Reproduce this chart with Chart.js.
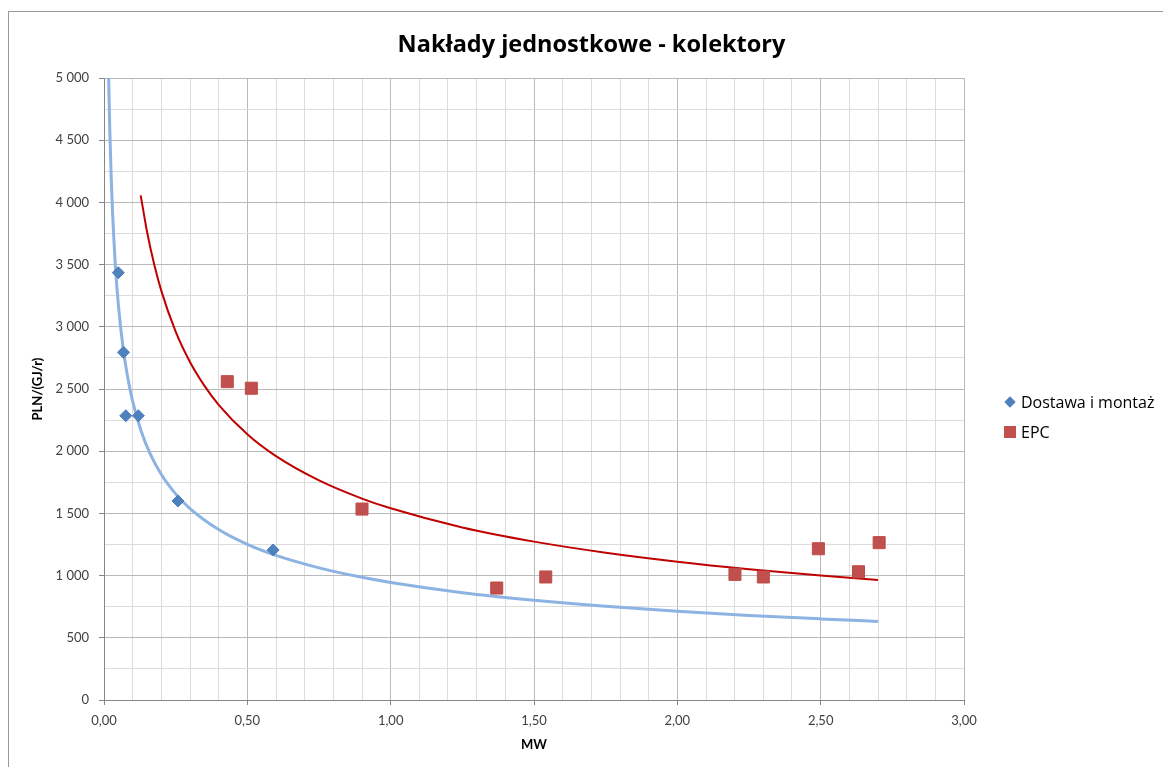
<!DOCTYPE html>
<html>
<head>
<meta charset="utf-8">
<script src="https://cdn.jsdelivr.net/npm/chart.js@4.4.0/dist/chart.umd.min.js"></script>
<style>
  html, body { margin: 0; padding: 0; background: #fff; width: 1163px; height: 767px; overflow: hidden; }
  #wrap { position: relative; width: 1163px; height: 767px; }
  #frame { position: absolute; left: 8px; top: 11px; width: 1200px; height: 800px; border-left: 1px solid #9a9a9a; border-top: 1px solid #9a9a9a; pointer-events: none; }
  #chart { position: absolute; left: 0; top: 0; }
  #legend { position: absolute; left: 1003px; top: 391px; font-family: "Open Sans", Lato, sans-serif; font-size: 16px; color: #000; }
  .item { position: relative; height: 22px; line-height: 22px; padding-left: 18px; margin-bottom: 8px; white-space: nowrap; }
  .diamond { position: absolute; left: 3px; top: 7px; width: 8px; height: 8px; background: #4F81BD; transform: rotate(45deg); }
  .square { position: absolute; left: 1px; top: 5px; width: 12px; height: 12px; background: #C0504D; }
</style>
</head>
<body>
<div id="wrap">
  <canvas id="chart" width="1163" height="767"></canvas>
  <div id="frame"></div>
  <div id="legend"></div>
</div>
<script>
// ---- Data ----
const chartTitle = 'Nakłady jednostkowe - kolektory';
const xAxisTitle = 'MW';
const yAxisTitle = 'PLN/(GJ/r)';
const seriesNames = ['Dostawa i montaż', 'EPC'];

const dostawaX = [0.050, 0.068, 0.076, 0.120, 0.258, 0.590];
const dostawaY = [3435, 2795, 2285, 2285, 1600, 1206];

const epcX = [0.430, 0.514, 0.900, 1.370, 1.541, 2.201, 2.300, 2.492, 2.632, 2.704];
const epcY = [2559, 2506, 1535, 900, 989, 1010, 989, 1216, 1031, 1265];

// trend lines (power trendlines)
const trendDostawaX = [0.0163, 0.020, 0.025, 0.030, 0.040, 0.050, 0.065, 0.080, 0.100, 0.130, 0.160, 0.200, 0.250, 0.300, 0.400, 0.500, 0.600, 0.750, 0.900, 1.000, 1.250, 1.500, 1.750, 2.000, 2.250, 2.500, 2.700];
const trendDostawaY = [5000, 4602, 4210, 3911, 3480, 3180, 2859, 2629, 2401, 2159, 1985, 1813, 1657, 1539, 1370, 1251, 1162, 1062, 986, 945, 863, 802, 753, 714, 680, 652, 632];

const trendEpcX = [0.128, 0.150, 0.175, 0.200, 0.250, 0.300, 0.350, 0.400, 0.500, 0.600, 0.750, 0.900, 1.000, 1.250, 1.500, 1.750, 2.000, 2.250, 2.500, 2.700];
const trendEpcY = [4057, 3766, 3502, 3289, 2961, 2717, 2527, 2373, 2136, 1960, 1765, 1619, 1541, 1387, 1273, 1184, 1112, 1052, 1001, 965];

const xTickLabels = ['0,00', '0,50', '1,00', '1,50', '2,00', '2,50', '3,00'];
const yTickLabels = ['0', '500', '1 000', '1 500', '2 000', '2 500', '3 000', '3 500', '4 000', '4 500', '5 000'];

// ---- helpers ----
const pts = (xs, ys) => xs.map((x, i) => ({ x: x, y: ys[i] }));
const FONT = 'Lato, "Liberation Sans", sans-serif';
const TFONT = '"Open Sans", Lato, sans-serif';
const MAJOR = '#b9b9b9', MINOR = '#dcdcdc';
const isHalf = v => Math.abs(v * 2 - Math.round(v * 2)) < 1e-6;
const is500 = v => Math.abs(v / 500 - Math.round(v / 500)) < 1e-6;

// legend (HTML text)
const legendEl = document.getElementById('legend');
legendEl.innerHTML =
  '<div class="item"><span class="diamond"></span>' + seriesNames[0] + '</div>' +
  '<div class="item"><span class="square"></span>' + seriesNames[1] + '</div>';

new Chart(document.getElementById('chart'), {
  type: 'scatter',
  data: {
    datasets: [
      {
        label: seriesNames[0],
        data: pts(dostawaX, dostawaY),
        pointStyle: 'rectRot',
        pointRadius: 6,
        pointBackgroundColor: '#4F81BD',
        pointBorderColor: '#4A7EBB',
        pointBorderWidth: 1,
        showLine: false
      },
      {
        label: seriesNames[1],
        data: pts(epcX, epcY),
        pointStyle: 'rect',
        pointRadius: 8.5,
        pointBackgroundColor: '#C0504D',
        pointBorderColor: '#BE4B48',
        pointBorderWidth: 1,
        showLine: false
      },
      {
        label: 'trend1',
        data: pts(trendDostawaX, trendDostawaY),
        showLine: true,
        borderColor: '#8DB3E2',
        borderWidth: 3,
        pointRadius: 0,
        cubicInterpolationMode: 'monotone',
        fill: false
      },
      {
        label: 'trend2',
        data: pts(trendEpcX, trendEpcY),
        showLine: true,
        borderColor: '#C00000',
        borderWidth: 2,
        pointRadius: 0,
        cubicInterpolationMode: 'monotone',
        fill: false
      }
    ]
  },
  options: {
    responsive: false,
    animation: false,
    events: [],
    layout: { padding: { left: 20, right: 0, top: 0, bottom: 0 } },
    plugins: {
      legend: { display: false },
      tooltip: { enabled: false },
      title: {
        display: true,
        text: chartTitle,
        color: '#000',
        font: { family: TFONT, size: 23.5, weight: 'bold' },
        padding: { top: 31, bottom: 18.8 }
      }
    },
    scales: {
      x: {
        type: 'linear',
        min: 0, max: 3,
        afterFit: s => { s.height = 67; },
        afterBuildTicks: s => {
          const t = [];
          for (let i = 0; i <= 30; i++) t.push({ value: i / 10 });
          s.ticks = t;
        },
        ticks: {
          autoSkip: false,
          maxRotation: 0,
          padding: 8,
          color: '#404040',
          font: { family: FONT, size: 13 },
          callback: v => isHalf(v) ? xTickLabels[Math.round(v * 2)] : ''
        },
        grid: {
          color: c => isHalf(c.tick.value) ? MAJOR : MINOR,
          tickColor: c => isHalf(c.tick.value) ? '#868686' : 'rgba(0,0,0,0)',
          tickLength: 5,
          lineWidth: 1
        },
        border: { color: '#868686', width: 1 },
        title: {
          display: true,
          text: xAxisTitle,
          color: '#000',
          font: { family: FONT, size: 13, weight: 'bold' },
          padding: { top: 0, bottom: 14 }
        }
      },
      y: {
        type: 'linear',
        position: 'left',
        min: 0, max: 5000,
        afterFit: s => { s.width = 84; },
        afterBuildTicks: s => {
          const t = [];
          for (let i = 0; i <= 20; i++) t.push({ value: i * 250 });
          s.ticks = t;
        },
        ticks: {
          autoSkip: false,
          padding: 10,
          color: '#404040',
          font: { family: FONT, size: 13 },
          callback: v => is500(v) ? yTickLabels[Math.round(v / 500)] : ''
        },
        grid: {
          color: c => is500(c.tick.value) ? MAJOR : MINOR,
          tickColor: c => is500(c.tick.value) ? '#868686' : 'rgba(0,0,0,0)',
          tickLength: 5,
          lineWidth: 1
        },
        border: { color: '#868686', width: 1 },
        title: {
          display: true,
          text: yAxisTitle,
          color: '#000',
          font: { family: FONT, size: 13, weight: 'bold' },
          padding: { top: 10, bottom: 0 }
        }
      },
      legendSpace: {
        type: 'linear',
        position: 'right',
        display: true,
        afterFit: s => { s.width = 199; },
        grid: { display: false, drawOnChartArea: false, drawTicks: false },
        border: { display: false },
        ticks: { display: false }
      }
    }
  }
});
</script>
</body>
</html>
